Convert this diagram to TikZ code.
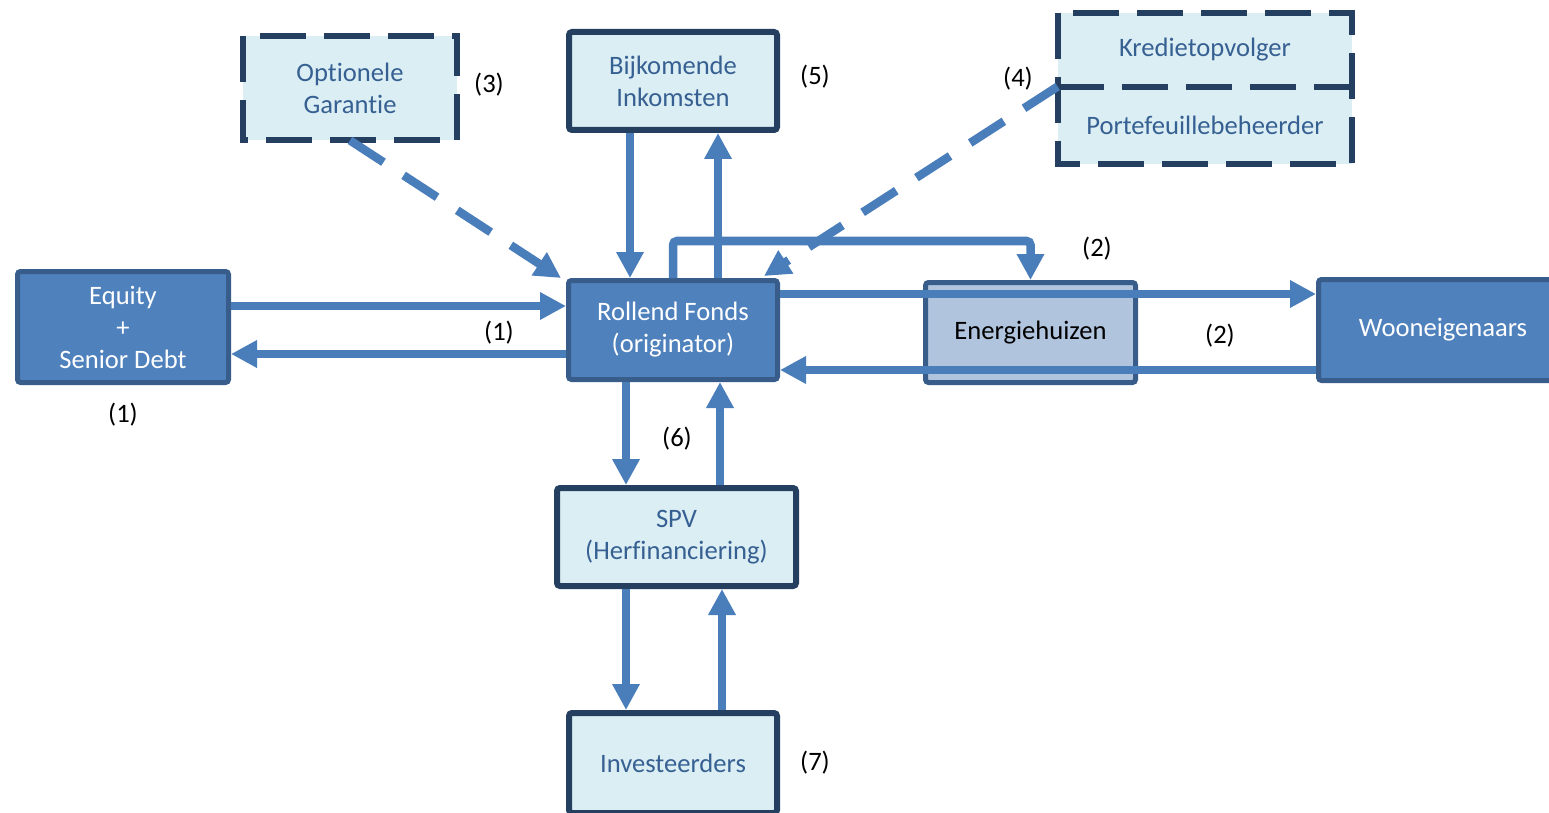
\documentclass[tikz,border=0pt]{standalone}
\usepackage{fontspec}
\setmainfont{Carlito}[Ligatures=NoCommon]
\usetikzlibrary{arrows.meta,calc}
\definecolor{midblue}{HTML}{4F81BD}
\definecolor{midedge}{HTML}{385D8A}
\definecolor{paleblue}{HTML}{DBEEF4}
\definecolor{darkedge}{HTML}{243F60}
\definecolor{boxtext}{HTML}{376092}
\definecolor{arrowblue}{HTML}{4A7EBB}
\definecolor{steel}{HTML}{B0C4DE}

\begin{document}
\begin{tikzpicture}[x=0.5pt,y=-0.5pt, font=\fontsize{13.3}{16}\selectfont,
  base/.style={rectangle, rounded corners=1.5pt, align=center, inner sep=0pt},
  darkbox/.style={base, fill=midblue, draw=midedge, line width=2.5pt, text=white},
  palebox/.style={base, fill=paleblue, draw=darkedge, line width=3pt, text=boxtext},
  steelbox/.style={base, fill=steel, draw=midedge, line width=2.5pt, text=black},
  flatbox/.style={base, rounded corners=0pt, fill=paleblue, text=boxtext},
  dashbox/.style={draw=darkedge, line width=3pt, dash pattern=on 23pt off 9pt},
  flow/.style={draw=arrowblue, line width=4.25pt, -{Triangle[width=13pt,length=13pt]}},
  dashflow/.style={flow, dash pattern=on 20pt off 12pt},
  tag/.style={text=black}]

\fill[white] (0,0) rectangle (1549,813);
\useasboundingbox (0,0) rectangle (1549,813);

% boxes
\node[darkbox, minimum width=105.5pt, minimum height=55.5pt] (eq) at (123,327) {Equity\\+\\Senior Debt};
\node[palebox, minimum width=104pt, minimum height=49pt] (bi) at (673,81) {Bijkomende\\Inkomsten};
\node[darkbox, minimum width=104.5pt, minimum height=49.5pt] (rf) at (673,330) {Rollend Fonds\\(originator)};
\node[steelbox, minimum width=105pt, minimum height=50pt] (eh) at (1030.5,332.5) {Energiehuizen};
\node[darkbox, minimum width=124.5pt, minimum height=50.5pt] (wo) at (1443,330) {Wooneigenaars};
\node[palebox, minimum width=119.5pt, minimum height=49pt] (spv) at (676.5,537) {SPV\\(Herfinanciering)};
\node[palebox, minimum width=104pt, minimum height=50pt] (inv) at (673,763) {Investeerders};

% dashed boxes
\node[flatbox, minimum width=107pt, minimum height=52pt] (og) at (350,88) {Optionele\\Garantie};
\draw[dashbox] (og.north west) rectangle (og.south east);
\node[flatbox, minimum width=147pt, minimum height=37pt] (kr) at (1205,50) {Kredietopvolger};
\node[flatbox, minimum width=147pt, minimum height=38.5pt] (pb) at (1205,125.5) {Portefeuillebeheerder};
\draw[dashbox] (kr.north west) rectangle (pb.south east);
\draw[dashbox] (kr.south west) -- (kr.south east);

% flows
\draw[flow] (eq.east |- 0,306) -- (rf.west |- 0,306);
\draw[flow] (rf.west |- 0,354) -- (eq.east |- 0,354);
\draw[flow] (bi.south -| 630,0) -- (rf.north -| 630,0);
\draw[flow] (rf.north -| 718,0) -- (bi.south -| 718,0);
\draw[flow, rounded corners=2pt] (rf.north) -- (rf.north |- 0,241) -| (eh.north);
\draw[flow] (rf.east |- 0,294) -- (wo.west |- 0,294);
\draw[flow] (wo.west |- 0,370) -- (rf.east |- 0,370);
\draw[flow] (rf.south -| 626,0) -- (spv.north -| 626,0);
\draw[flow] (spv.north -| 720,0) -- (rf.south -| 720,0);
\draw[flow] (spv.south -| 626,0) -- (inv.north -| 626,0);
\draw[flow] (inv.north -| 722,0) -- (spv.south -| 722,0);
\draw[dashflow] (og.south) -- ($(rf.north west)+(-5,0)$);
\draw[dashflow] (pb.north west) -- ($(rf.north east)+(-16,-2)$);

% labels
\node[tag] (l1a) at (499,333) {(1)};
\node[tag] (l1b) at (123,415) {(1)};
\node[tag] (l2a) at (1097,249) {(2)};
\node[tag] (l2b) at (1220,336) {(2)};
\node[tag] (l3) at (489,85) {(3)};
\node[tag] (l4) at (1018,79) {(4)};
\node[tag] (l5) at (815,77) {(5)};
\node[tag] (l6) at (677,439) {(6)};
\node[tag] (l7) at (815,763) {(7)};
\end{tikzpicture}
\end{document}
